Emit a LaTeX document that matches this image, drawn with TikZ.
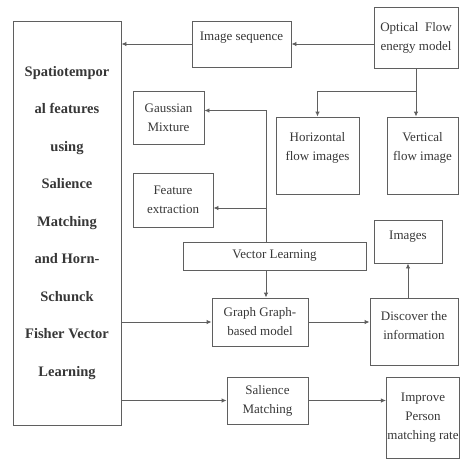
\documentclass[tikz,border=0pt]{standalone}
\usepackage{fontspec}
\setmainfont{Liberation Serif}
\usetikzlibrary{arrows.meta}

\tikzset{
  blk/.style={draw={rgb,255:red,95;green,95;blue,95}, line width=0.9pt, text={rgb,255:red,55;green,55;blue,55}, align=center, inner sep=1pt, font=\fontsize{13}{19}\selectfont},
  arr/.style={draw={rgb,255:red,95;green,95;blue,95}, line width=0.9pt, -{Latex[length=5pt,width=4.5pt]}},
  lin/.style={draw={rgb,255:red,95;green,95;blue,95}, line width=0.9pt}
}

\begin{document}
\begin{tikzpicture}[x=1pt,y=1pt,yscale=-1,xscale=1]
\useasboundingbox (0,0) rectangle (461,459);
% boxes
\node [blk, minimum width=108, minimum height=404, font=\bfseries\fontsize{14.5}{37.5}\selectfont] (feat) at (67,223) {Spatiotempor\\al features\\using\\Salience\\Matching\\and Horn-\\Schunck\\Fisher Vector\\Learning};
\node [blk, minimum width=99, minimum height=46] (imgseq) at (241.5,44) {Image sequence\\[-4pt]\mbox{}};
\node [blk, minimum width=84, minimum height=61] (optical) at (416,37.5) {Optical\ \ Flow\\energy model};
\node [blk, minimum width=83, minimum height=77] (horiz) at (317.5,155.5) {Horizontal\\flow images\\\mbox{}};
\node [blk, minimum width=71, minimum height=77] (vert) at (422.5,155.5) {Vertical\\flow image\\\mbox{}};
\node [blk, minimum width=71, minimum height=53] (gauss) at (168.5,117.5) {Gaussian\\Mixture};
\node [blk, minimum width=80, minimum height=54] (featx) at (173,200) {Feature\\extraction};
\node [blk, minimum width=183, minimum height=28] (veclearn) at (274.5,256) {Vector Learning};
\node [blk, minimum width=96, minimum height=48] (graph) at (260,322) {Graph Graph-\\based model};
\node [blk, minimum width=88, minimum height=67] (discover) at (414,331.5) {Discover the\\information\\[-6pt]\mbox{}};
\node [blk, minimum width=68, minimum height=43] (images) at (408,241.5) {Images\\[-6pt]\mbox{}};
\node [blk, minimum width=81, minimum height=47] (salience) at (267.5,400.5) {Salience\\Matching};
\node [blk, minimum width=72, minimum height=81] (improve) at (423,417.5) {Improve\\Person\\matching rate};
\coordinate (vl) at (266,242);
% connectors
\draw [arr] (optical.west |- imgseq.east) -- (imgseq.east);
\draw [arr] (imgseq.west) -- (imgseq.west -| feat.east);
\draw [arr] (optical.south) -- ++(0,23) -| (horiz.north);
\draw [arr] (optical.south) -- (optical.south |- vert.north);
\draw [arr] (vl) |- ([yshift=-7pt]gauss.east);
\draw [arr] ([yshift=8pt]vl |- featx.east) -- ([yshift=8pt]featx.east);
\draw [arr] (vl |- veclearn.south) -- (vl |- graph.north);
\draw [arr] (feat.east |- graph.west) -- (graph.west);
\draw [arr] (graph.east) -- (graph.east -| discover.west);
\draw [arr] (images.south |- discover.north) -- (images.south);
\draw [arr] (feat.east |- salience.west) -- (salience.west);
\draw [arr] (salience.east) -- (salience.east -| improve.west);
\end{tikzpicture}
\end{document}
